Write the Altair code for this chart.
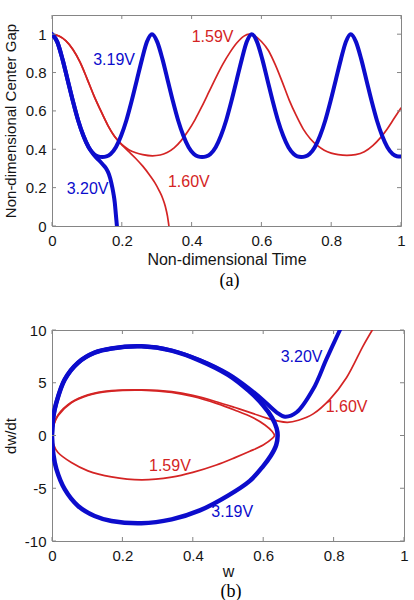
import altair as alt
import pandas as pd

# ---------------- Panel (a): gap vs time ----------------
t_319 = [0.000, 0.015, 0.030, 0.045, 0.060, 0.075, 0.090, 0.105, 0.120, 0.132, 0.144,
         0.156, 0.168, 0.183, 0.198, 0.213, 0.228, 0.243, 0.258, 0.272, 0.2865,
         0.3015, 0.3165, 0.3315, 0.3465, 0.3615, 0.3765, 0.3915, 0.4065, 0.418, 0.430,
         0.442, 0.454, 0.469, 0.484, 0.499, 0.514, 0.529, 0.544, 0.558, 0.5725,
         0.5875, 0.6025, 0.6175, 0.6325, 0.6475, 0.6625, 0.6775, 0.6925, 0.703, 0.714,
         0.726, 0.738, 0.753, 0.768, 0.783, 0.798, 0.813, 0.828, 0.842, 0.856,
         0.871, 0.886, 0.901, 0.916, 0.931, 0.946, 0.961, 0.976, 0.988, 1.000]
g_319 = [1.000, 0.960, 0.870, 0.760, 0.650, 0.550, 0.470, 0.410, 0.375, 0.363, 0.360,
         0.363, 0.375, 0.410, 0.470, 0.550, 0.650, 0.760, 0.870, 0.960, 1.000,
         0.960, 0.870, 0.760, 0.650, 0.550, 0.470, 0.410, 0.375, 0.363, 0.360,
         0.363, 0.375, 0.410, 0.470, 0.550, 0.650, 0.760, 0.870, 0.960, 1.000,
         0.960, 0.870, 0.760, 0.650, 0.550, 0.470, 0.410, 0.375, 0.363, 0.360,
         0.363, 0.375, 0.410, 0.470, 0.550, 0.650, 0.760, 0.870, 0.960, 1.000,
         0.960, 0.870, 0.760, 0.650, 0.550, 0.470, 0.410, 0.375, 0.364, 0.362]

t_320 = [0.000, 0.015, 0.030, 0.045, 0.060, 0.075, 0.090, 0.105, 0.115, 0.125, 0.135,
         0.145, 0.155, 0.163, 0.170, 0.176, 0.180, 0.183, 0.186]
g_320 = [1.000, 0.960, 0.870, 0.760, 0.650, 0.550, 0.470, 0.410, 0.383, 0.360, 0.342,
         0.322, 0.300, 0.270, 0.225, 0.170, 0.120, 0.060, 0.000]

t_159 = [0.000, 0.020, 0.040, 0.060, 0.080, 0.100, 0.120, 0.140, 0.160, 0.180, 0.200,
         0.220, 0.240, 0.260, 0.288, 0.310, 0.330, 0.350, 0.370, 0.390, 0.410,
         0.430, 0.450, 0.470, 0.490, 0.510, 0.530, 0.550, 0.565, 0.580, 0.600,
         0.620, 0.640, 0.660, 0.680, 0.700, 0.720, 0.740, 0.760, 0.780, 0.800,
         0.820, 0.845, 0.870, 0.895, 0.920, 0.940, 0.960, 0.980, 1.000]
g_159 = [1.000, 0.990, 0.965, 0.920, 0.855, 0.770, 0.680, 0.600, 0.525, 0.465, 0.425,
         0.398, 0.382, 0.372, 0.366, 0.370, 0.383, 0.407, 0.445, 0.495, 0.555,
         0.625, 0.700, 0.775, 0.845, 0.905, 0.955, 0.990, 1.000, 0.992, 0.962,
         0.915, 0.840, 0.750, 0.655, 0.575, 0.505, 0.455, 0.420, 0.395, 0.380,
         0.372, 0.368, 0.372, 0.387, 0.420, 0.458, 0.505, 0.560, 0.615]

t_160 = [0.000, 0.020, 0.040, 0.060, 0.080, 0.100, 0.120, 0.140, 0.160, 0.180, 0.200,
         0.220, 0.240, 0.260, 0.280, 0.295, 0.307, 0.317, 0.325, 0.331, 0.335]
g_160 = [1.000, 0.990, 0.965, 0.920, 0.855, 0.770, 0.680, 0.600, 0.525, 0.465, 0.423,
         0.388, 0.352, 0.312, 0.265, 0.225, 0.185, 0.145, 0.100, 0.050, 0.000]

# labels of panel (a)
lab_a_text = ["3.19V", "1.59V", "3.20V", "1.60V"]
lab_a_t = [0.178, 0.460, 0.102, 0.392]
lab_a_g = [0.866, 0.987, 0.191, 0.230]

# ---------------- Panel (b): phase plane ----------------
w_319 = [0.000, 0.004, 0.0125, 0.036, 0.074, 0.121, 0.169, 0.254, 0.340, 0.420, 0.500,
         0.560, 0.600, 0.625, 0.638, 0.641, 0.637, 0.622, 0.600, 0.562, 0.500,
         0.420, 0.340, 0.254, 0.169, 0.121, 0.074, 0.036, 0.0125, 0.004, 0.000]
v_319 = [0.0, 1.8, 3.13, 5.3, 6.9, 7.85, 8.25, 8.45, 8.05, 7.1, 5.75,
         4.2, 2.85, 1.7, 0.7, 0.0, -0.9, -1.9, -2.9, -4.3, -5.7,
         -7.1, -7.95, -8.32, -8.1, -7.63, -6.68, -5.09, -3.19, -1.8, 0.0]

w_320 = [0.000, 0.004, 0.0125, 0.036, 0.074, 0.121, 0.169, 0.254, 0.340, 0.420, 0.500,
         0.560, 0.600, 0.638, 0.662, 0.695, 0.742, 0.780, 0.818]
v_320 = [0.0, 1.8, 3.13, 5.3, 6.9, 7.85, 8.25, 8.45, 8.05, 7.15, 5.85,
         4.45, 3.35, 2.2, 1.78, 2.2, 4.4, 7.26, 10.0]

w_159 = [0.000, 0.005, 0.017, 0.055, 0.102, 0.169, 0.254, 0.340, 0.400, 0.467, 0.520,
         0.570, 0.605, 0.625, 0.632, 0.625, 0.600, 0.562, 0.520, 0.467, 0.400,
         0.340, 0.254, 0.169, 0.102, 0.055, 0.017, 0.005, 0.000]
v_159 = [0.0, 1.0, 1.87, 3.1, 3.8, 4.2, 4.3, 4.08, 3.7, 3.05, 2.4,
         1.7, 1.0, 0.4, 0.0, -0.3, -0.9, -1.5, -2.1, -2.8, -3.5,
         -3.95, -4.2, -3.92, -3.35, -2.56, -1.61, -0.9, 0.0]

w_160 = [0.000, 0.005, 0.017, 0.055, 0.102, 0.169, 0.254, 0.340, 0.400, 0.467, 0.520,
         0.570, 0.610, 0.640, 0.669, 0.700, 0.742, 0.790, 0.837, 0.884, 0.910]
v_160 = [0.0, 1.05, 1.95, 3.15, 3.85, 4.25, 4.33, 4.15, 3.8, 3.2, 2.65,
         2.1, 1.65, 1.38, 1.25, 1.45, 2.05, 3.45, 5.5, 8.5, 10.0]

lab_b_text = ["3.20V", "1.60V", "1.59V", "3.19V"]
lab_b_w = [0.709, 0.837, 0.335, 0.512]
lab_b_v = [7.41, 2.74, -2.90, -7.26]

# tick values
xticks = [0, 0.2, 0.4, 0.6, 0.8, 1]
yticks_a = [0, 0.2, 0.4, 0.6, 0.8, 1]
yticks_b = [-10, -5, 0, 5, 10]

# ---------------- styling ----------------
BLUE = "#0c0ccc"
RED = "#d42424"
FRAME = "#858585"
TXT = "#151515"
FONT = "Liberation Sans"
SERIES = ["1.59V", "1.60V", "3.19V", "3.20V"]
COLORS = [RED, RED, BLUE, BLUE]
color_scale = alt.Scale(domain=SERIES, range=COLORS)

W_A, H_A = 349, 211
W_B, H_B = 352, 211


def make_df(xs, ys, name, xn, yn):
    return pd.DataFrame({xn: xs, yn: ys, "series": name, "i": list(range(len(xs)))})


def axis_x(title, tpad):
    return alt.Axis(values=xticks, title=title, domain=False, ticks=False, grid=False,
                    labelFlush=False, labelPadding=7, titlePadding=tpad,
                    labelFont=FONT, labelFontSize=15, labelColor=TXT,
                    titleFont=FONT, titleFontSize=16, titleFontWeight="normal",
                    titleColor=TXT, format="~g")


def axis_y(title, vals, fmt):
    return alt.Axis(values=vals, title=title, domain=False, ticks=False, grid=False,
                    labelPadding=6, titlePadding=8, minExtent=26, maxExtent=26,
                    labelFont=FONT, labelFontSize=15, labelColor=TXT,
                    titleFont=FONT, titleFontSize=15, titleFontWeight="normal",
                    titleColor=TXT, labelExpr=fmt)


def panel(dfs, widths, xn, yn, xs, ys, xtitle, xtpad, ytitle, yvals, yfmt, W, H,
          labels, caption, cap_dy, interp):
    ax = axis_x(xtitle, xtpad)
    ay = axis_y(ytitle, yvals, yfmt)

    def X(f):
        return alt.X(f"{f}:Q", scale=xs, axis=ax)

    def Y(f):
        return alt.Y(f"{f}:Q", scale=ys, axis=ay)

    line_layers = []
    for df, sw in zip(dfs, widths):
        line_layers.append(
            alt.Chart(df).mark_line(interpolate=interp, clip=True, strokeWidth=sw,
                                    strokeCap="round", strokeJoin="round").encode(
                x=X(xn), y=Y(yn),
                color=alt.Color("series:N", scale=color_scale, legend=None),
                order="i:Q",
            ))

    xt = pd.DataFrame({"v": xticks})
    yt = pd.DataFrame({"v": yvals})
    rx = dict(color=FRAME, strokeWidth=1)
    tb = alt.Chart(xt).mark_rule(**rx).encode(
        x=X("v"), y=alt.value(H - 4), y2=alt.value(H))
    tt = alt.Chart(xt).mark_rule(**rx).encode(
        x=X("v"), y=alt.value(0), y2=alt.value(4))
    tl = alt.Chart(yt).mark_rule(**rx).encode(
        y=Y("v"), x=alt.value(0), x2=alt.value(4))
    tr = alt.Chart(yt).mark_rule(**rx).encode(
        y=Y("v"), x=alt.value(W - 4), x2=alt.value(W))

    lab = alt.Chart(labels).mark_text(font=FONT, fontSize=16).encode(
        x=X("lx"), y=Y("ly"),
        text="series:N",
        color=alt.Color("series:N", scale=color_scale, legend=None),
    )
    cap = alt.Chart(pd.DataFrame({"c": [caption]})).mark_text(
        font="Liberation Serif", fontSize=18, color="#000", baseline="middle").encode(
        x=alt.value(W / 2 + 3), y=alt.value(H + cap_dy), text="c:N")

    return alt.layer(*line_layers, tb, tt, tl, tr, lab, cap).properties(
        width=W, height=H)


pa = panel([make_df(t_159, g_159, "1.59V", "t", "g"),
            make_df(t_160, g_160, "1.60V", "t", "g"),
            make_df(t_319, g_319, "3.19V", "t", "g"),
            make_df(t_320, g_320, "3.20V", "t", "g")],
           [1.7, 1.7, 4.0, 4.0], "t", "g",
           alt.Scale(domain=[0, 1], nice=False, zero=False),
           alt.Scale(domain=[0, 1.1], nice=False, zero=False),
           "Non-dimensional Time", 3, "Non-dimensional Center Gap", yticks_a,
           "format(datum.value, '~g')",
           W_A, H_A,
           pd.DataFrame({"series": lab_a_text, "lx": lab_a_t, "ly": lab_a_g}),
           "(a)", 55, "monotone")

pb = panel([make_df(w_159, v_159, "1.59V", "w", "d"),
            make_df(w_160, v_160, "1.60V", "w", "d"),
            make_df(w_319, v_319, "3.19V", "w", "d"),
            make_df(w_320, v_320, "3.20V", "w", "d")],
           [1.7, 1.7, 4.5, 4.0], "w", "d",
           alt.Scale(domain=[0, 1], nice=False, zero=False),
           alt.Scale(domain=[-10, 10], nice=False, zero=False),
           "w", 0, "dw/dt", yticks_b,
           "'' + datum.value",
           W_B, H_B,
           pd.DataFrame({"series": lab_b_text, "lx": lab_b_w, "ly": lab_b_v}),
           "(b)", 51, "catmull-rom")

chart = alt.vconcat(pa, pb, spacing=31).properties(
    padding={"left": 2, "top": 14, "right": 5, "bottom": 5},
    background="white",
).configure_view(stroke=FRAME, strokeWidth=1)

chart.save("out.html", embed_options={"renderer": "svg", "actions": False})
